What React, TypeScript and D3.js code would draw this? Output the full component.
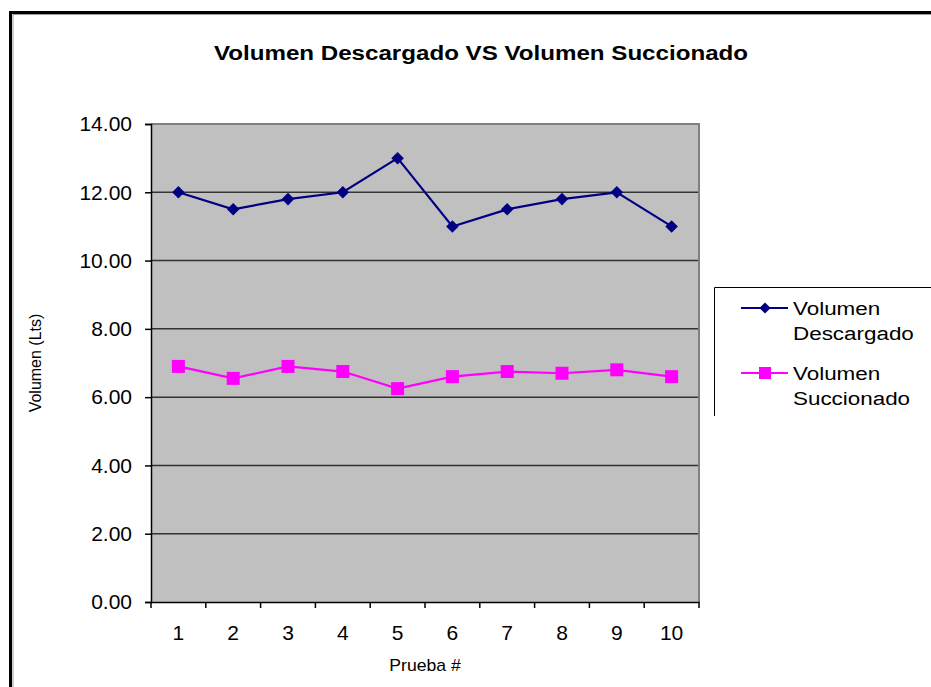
import React from 'react';
import * as d3 from 'd3';

const pruebas = ['1', '2', '3', '4', '5', '6', '7', '8', '9', '10'];
const descargado = [12, 11.5, 11.8, 12, 13, 11, 11.5, 11.8, 12, 11];
const succionado = [6.9, 6.55, 6.9, 6.75, 6.25, 6.6, 6.75, 6.7, 6.8, 6.6];
const yTicks = [0, 2, 4, 6, 8, 10, 12, 14];

const W = 931;
const H = 687;

const App: React.FC = () => {
  const svgRef = React.useRef<SVGSVGElement>(null);

  React.useEffect(() => {
    if (!svgRef.current) return;
    const svg = d3.select(svgRef.current);
    svg.selectAll('*').remove();

    const font = 'Liberation Sans, Arial, sans-serif';
    const margin = { top: 124, left: 151, right: 232, bottom: 85 };
    const plotW = W - margin.left - margin.right;
    const plotH = H - margin.top - margin.bottom;

    // marco exterior
    svg.append('rect').attr('width', W).attr('height', H).attr('fill', '#fff');
    svg.append('path')
      .attr('d', `M10.5,${H} V12.5 H${W}`)
      .attr('fill', 'none').attr('stroke', '#000').attr('stroke-width', 3);
    svg.append('path')
      .attr('d', `M13,${H} V14.5 H${W}`)
      .attr('fill', 'none').attr('stroke', '#999').attr('stroke-width', 1);

    // titulo (la imagen original esta algo estirada en horizontal)
    svg.append('text')
      .attr('transform', 'translate(481,60) scale(1.15,1)')
      .attr('text-anchor', 'middle')
      .attr('font-family', font)
      .attr('font-size', '21px')
      .attr('font-weight', 'bold')
      .attr('fill', '#000')
      .text('Volumen Descargado VS Volumen Succionado');

    const g = svg.append('g').attr('transform', `translate(${margin.left},${margin.top})`);

    const x = d3.scaleBand().domain(pruebas).range([0, plotW]).padding(0);
    const y = d3.scaleLinear().domain([0, 14]).range([plotH, 0]);
    const cx = (i: number) => (x(pruebas[i]) || 0) + x.bandwidth() / 2;

    // fondo del area
    g.append('rect')
      .attr('width', plotW).attr('height', plotH)
      .attr('fill', '#c0c0c0');

    // lineas de division
    g.selectAll('.grid')
      .data(yTicks.filter(t => t > 0 && t < 14))
      .enter().append('line')
      .attr('x1', 0).attr('x2', plotW)
      .attr('y1', d => y(d)).attr('y2', d => y(d))
      .attr('stroke', '#333').attr('stroke-width', 1.5);

    // borde gris arriba y derecha
    g.append('path')
      .attr('d', `M0,${y(14)} H${plotW} V${plotH}`)
      .attr('fill', 'none').attr('stroke', '#808080').attr('stroke-width', 2);

    // eje Y
    const yAxis = g.append('g')
      .call(d3.axisLeft(y).tickValues(yTicks).tickSize(6).tickPadding(13).tickFormat(d => (d as number).toFixed(2)));
    yAxis.select('.domain').attr('stroke', '#000').attr('stroke-width', 1.5);
    yAxis.selectAll('.tick line').attr('stroke', '#000').attr('stroke-width', 1.5);
    yAxis.selectAll('.tick text')
      .attr('font-family', font).attr('font-size', '21px').attr('fill', '#000');

    // eje X
    const xAxis = g.append('g')
      .attr('transform', `translate(0,${plotH})`)
      .call(d3.axisBottom(x).tickSize(0).tickPadding(23));
    xAxis.select('.domain').attr('stroke', '#000').attr('stroke-width', 1.5);
    xAxis.selectAll('.tick text')
      .attr('font-family', font).attr('font-size', '21px').attr('fill', '#000');
    xAxis.selectAll('.sep')
      .data([...pruebas.map(p => x(p) || 0), plotW])
      .enter().append('line')
      .attr('x1', d => d).attr('x2', d => d)
      .attr('y1', 0).attr('y2', 6)
      .attr('stroke', '#000').attr('stroke-width', 1.5);

    // titulos de ejes
    svg.append('text')
      .attr('transform', `translate(41,${margin.top + plotH / 2}) rotate(-90)`)
      .attr('text-anchor', 'middle')
      .attr('font-family', font).attr('font-size', '16px').attr('fill', '#000')
      .text('Volumen (Lts)');
    svg.append('text')
      .attr('transform', `translate(${margin.left + plotW / 2},671) scale(1.1,1)`)
      .attr('text-anchor', 'middle')
      .attr('font-family', font).attr('font-size', '16px').attr('fill', '#000')
      .text('Prueba #');

    // series
    const line = d3.line<number>().x((_, i) => cx(i)).y(d => y(d));

    g.append('path').datum(descargado)
      .attr('d', line).attr('fill', 'none')
      .attr('stroke', '#000080').attr('stroke-width', 2.2);
    g.selectAll('.dia').data(descargado).enter().append('path')
      .attr('d', d3.symbol().type(d3.symbolDiamond2).size(100))
      .attr('transform', (d, i) => `translate(${cx(i)},${y(d)})`)
      .attr('fill', '#000080');

    g.append('path').datum(succionado)
      .attr('d', line).attr('fill', 'none')
      .attr('stroke', '#ff00ff').attr('stroke-width', 2.2);
    g.selectAll('.sq').data(succionado).enter().append('rect')
      .attr('x', (d, i) => cx(i) - 6.5).attr('y', d => y(d) - 6.5)
      .attr('width', 13).attr('height', 13)
      .attr('fill', '#ff00ff');

    // leyenda
    svg.append('path')
      .attr('d', `M714.5,416 V287.5 H${W}`)
      .attr('fill', 'none').attr('stroke', '#000').attr('stroke-width', 1);

    const items = [
      { name: ['Volumen', 'Descargado'], color: '#000080', kind: 'diamond' },
      { name: ['Volumen', 'Succionado'], color: '#ff00ff', kind: 'square' }
    ];
    items.forEach((item, i) => {
      const ly = 308 + i * 65;
      const lg = svg.append('g').attr('transform', `translate(0,${ly})`);
      lg.append('line').attr('x1', 741).attr('x2', 788).attr('y1', 0).attr('y2', 0)
        .attr('stroke', item.color).attr('stroke-width', 2.2);
      if (item.kind === 'diamond') {
        lg.append('path')
          .attr('d', d3.symbol().type(d3.symbolDiamond2).size(80))
          .attr('transform', 'translate(765,0)')
          .attr('fill', item.color);
      } else {
        lg.append('rect').attr('x', 759).attr('y', -6).attr('width', 12).attr('height', 12)
          .attr('fill', item.color);
      }
      item.name.forEach((t, j) => {
        lg.append('text')
          .attr('transform', `translate(793,${7 + j * 25}) scale(1.18,1)`)
          .attr('font-family', font).attr('font-size', '19px').attr('fill', '#000')
          .text(t);
      });
    });
  }, []);

  return (
    <svg
      ref={svgRef}
      width={W}
      height={H}
      style={{ position: 'absolute', left: 0, top: 0 }}
    />
  );
};

export default App;
